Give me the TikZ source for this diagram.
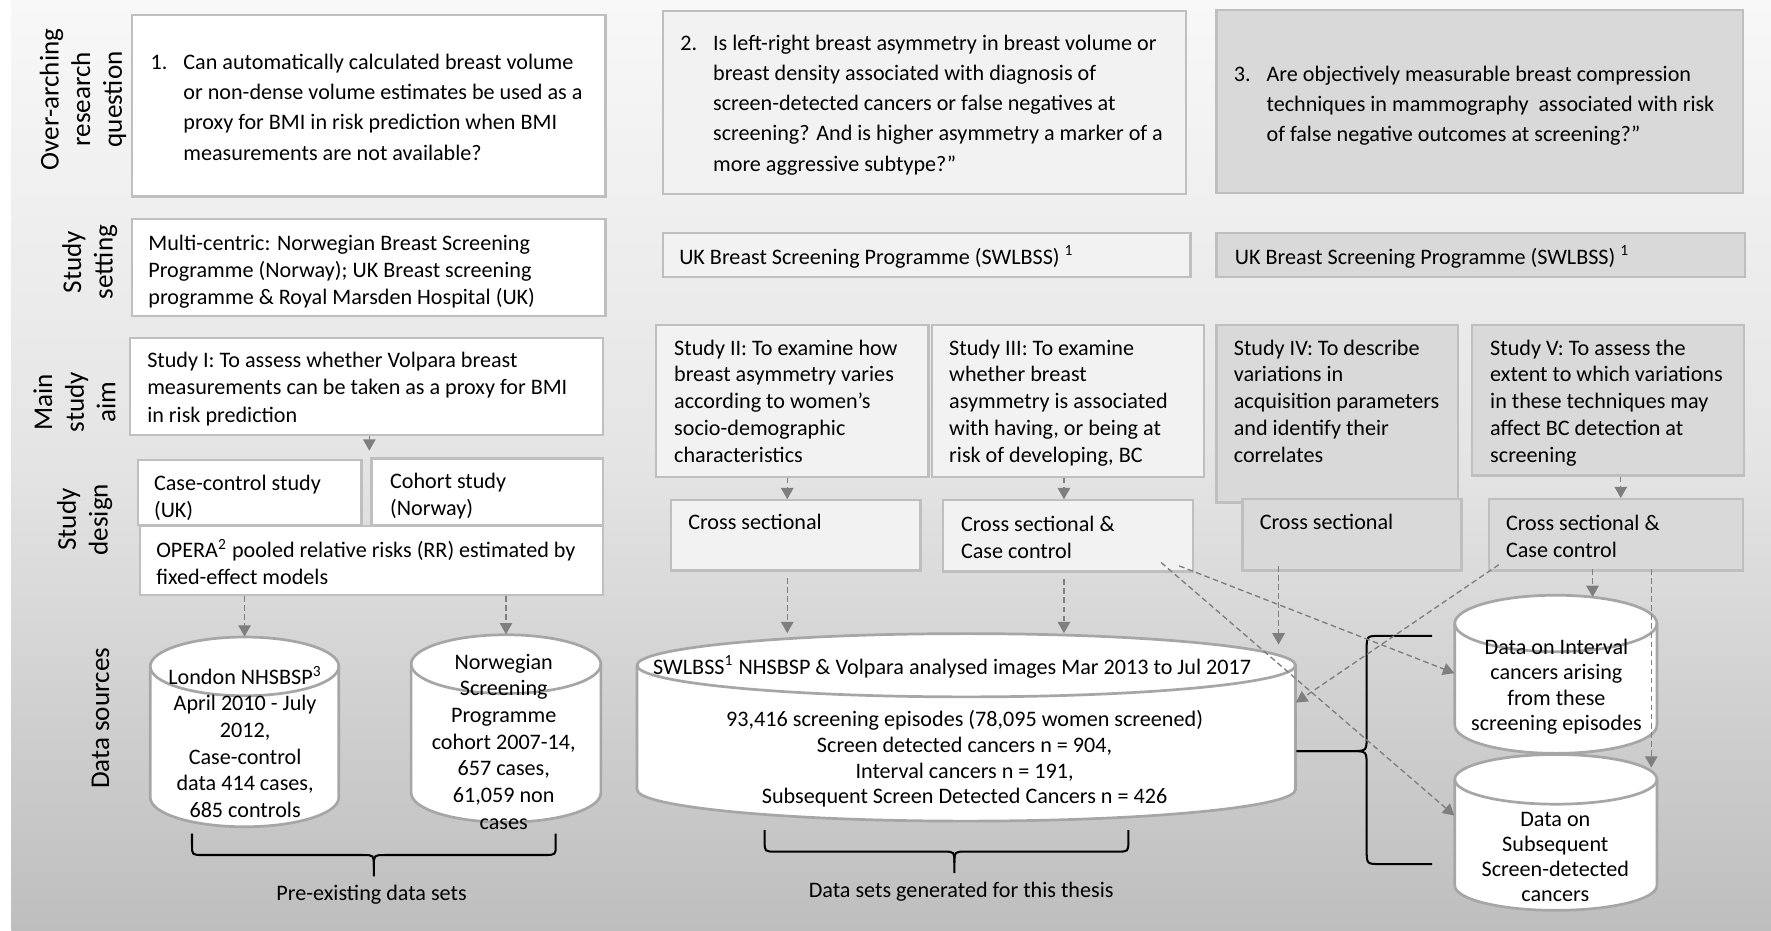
\documentclass[tikz,border=0pt]{standalone}
\usepackage{fontspec}
\setmainfont{Carlito}
\usetikzlibrary{fit,arrows.meta,calc}

\definecolor{bordergray}{HTML}{BFBFBF}
\definecolor{fillB}{HTML}{F2F2F2}
\definecolor{fillC}{HTML}{D9D9D9}
\definecolor{arrgray}{HTML}{7F7F7F}
\definecolor{cylgray}{HTML}{A6A6A6}
\definecolor{bgtop}{HTML}{F8F8F8}
\definecolor{bgmid}{HTML}{E4E4E4}
\definecolor{bgbot}{HTML}{BEBEBE}

\newcommand{\tstr}{\rule{0pt}{0.8em}}
\newcommand{\qind}{\hspace*{14.5pt}}

\tikzset{
  box/.style={draw=bordergray, line width=1pt, inner sep=0pt},
  boxA/.style={box, fill=white},
  boxB/.style={box, fill=fillB},
  boxC/.style={box, fill=fillC},
  txt/.style={inner sep=0pt, align=left, anchor=north west, font=\fontsize{9.8}{11.9}\selectfont},
  qtxt/.style={inner sep=0pt, align=left, anchor=north west, font=\fontsize{9.8}{13.4}\selectfont},
  ctxt/.style={inner sep=0pt, align=center, anchor=north, font=\fontsize{9.8}{11.6}\selectfont},
  rowlab/.style={rotate=90, align=center, inner sep=0pt, font=\fontsize{12}{14}\selectfont},
  darr/.style={color=arrgray, line width=0.6pt, dash pattern=on 2.5pt off 1.5pt, -{Triangle[length=5pt,width=5.5pt]}},
  sarr/.style={color=arrgray, line width=0.6pt, -{Triangle[length=5pt,width=5.5pt]}},
  cyl/.style={draw=cylgray, line width=1.2pt, fill=white},
  brc/.style={draw=black, line width=0.9pt},
}

\newcommand{\drawcyl}[6]{%
  \node[fit={(#2,#4)(#3,#5)}, inner sep=0pt] (#1) {};
  \pgfmathsetmacro{\cylrx}{(#3-#2)/4}%
  \pgfmathsetmacro{\cylry}{#6/2}%
  \filldraw[cyl] (#2,{#4+#6}) -- (#2,{#5-#6}) arc[start angle=180,end angle=360,x radius=\cylrx pt,y radius=\cylry pt] -- (#3,{#4+#6}) arc[start angle=0,end angle=180,x radius=\cylrx pt,y radius=\cylry pt] -- cycle;
  \draw[cyl, fill=none] (#2,{#4+#6}) arc[start angle=180,end angle=360,x radius=\cylrx pt,y radius=\cylry pt];
}

\begin{document}
\begin{tikzpicture}[x=0.5pt,y=-0.5pt]
\useasboundingbox (0,0) rectangle (1568,824);
\fill[white] (0,0) rectangle (1568,824);
\shade[top color=bgtop, bottom color=bgbot, middle color=bgmid] (10,0) rectangle (1568,824);

% row labels
\node[rowlab] (lab1) at (73.5,88) {Over-arching\\research\\question};
\node[rowlab] (lab2) at (79.5,232) {Study\\setting};
\node[rowlab] (lab3) at (66,356) {Main\\study\\aim};
\node[rowlab] (lab4) at (75,460) {Study\\design};
\node[rowlab] (lab5) at (89,636) {Data sources};

% boxes
\node[boxA, fit={(117,13)(536,174)}] (q1) {};
\node[boxB, fit={(587,10)(1050,172)}] (q2) {};
\node[boxC, fit={(1077,9)(1543,171)}] (q3) {};
\node[boxA, fit={(117,194)(536,280)}] (set1) {};
\node[boxB, fit={(587,206)(1054,245)}] (set2) {};
\node[boxC, fit={(1077,206)(1545,245)}] (set3) {};
\node[boxA, fit={(115,299)(534,385)}] (s1) {};
\node[boxA, fit={(122,407)(320,465)}] (cc) {};
\node[boxA, fit={(329,406)(534,465)}] (coh) {};
\node[boxA, fit={(124,466)(534,527)}] (opera) {};
\node[boxB, fit={(581,288)(822,422)}] (s2) {};
\node[boxB, fit={(825,288)(1066,422)}] (s3) {};
\node[boxC, fit={(1077,288)(1291,445)}] (s4) {};
\node[boxC, fit={(1303,288)(1544,421)}] (s5) {};
\node[boxB, fit={(594,443)(815,505)}] (cs2) {};
\node[boxB, fit={(835,443)(1056,506)}] (cs3) {};
\node[boxC, fit={(1100,442)(1294,505)}] (cs4) {};
\node[boxC, fit={(1318,442)(1543,505)}] (cs5) {};

% box texts
\node[qtxt] (q1t) at (133,45.3) {\tstr\makebox[14.5pt][l]{1.}Can automatically calculated breast volume\\\qind or non-dense volume estimates be used as a\\\qind proxy for BMI in risk prediction when BMI\\\qind measurements are not available?};
\node[qtxt] (q2t) at (602,28.3) {\tstr\makebox[14.5pt][l]{2.}Is left-right breast asymmetry in breast volume or\\\qind breast density associated with diagnosis of\\\qind screen-detected cancers or false negatives at\\\qind screening? And is higher asymmetry a marker of a\\\qind more aggressive subtype?”};
\node[qtxt] (q3t) at (1092,55.8) {\tstr\makebox[14.5pt][l]{3.}Are objectively measurable breast compression\\\qind techniques in mammography\ \ associated with risk\\\qind of false negative outcomes at screening?”};
\node[txt, font=\fontsize{9.8}{12.1}\selectfont] (set1t) at (131,205.3) {\tstr Multi-centric: Norwegian Breast Screening\\Programme (Norway); UK Breast screening\\programme \& Royal Marsden Hospital (UK)};
\node[txt] (set2t) at (601,217.3) {\tstr UK Breast Screening Programme (SWLBSS) \textsuperscript{1}};
\node[txt] (set3t) at (1093,217.3) {\tstr UK Breast Screening Programme (SWLBSS) \textsuperscript{1}};
\node[txt, font=\fontsize{9.8}{12.1}\selectfont] (s1t) at (130,309.3) {\tstr Study I: To assess whether Volpara breast\\measurements can be taken as a proxy for BMI\\in risk prediction};
\node[txt] (cct) at (136,418.3) {\tstr Case-control study\\(UK)};
\node[txt] (coht) at (345,416.3) {\tstr Cohort study\\(Norway)};
\node[txt] (operat) at (138,477.3) {\tstr OPERA\textsuperscript{2} pooled relative risks (RR) estimated by\\fixed-effect models};
\node[txt] (s2t) at (596.5,298.3) {\tstr Study II: To examine how\\breast asymmetry varies\\according to women’s\\socio-demographic\\characteristics};
\node[txt] (s3t) at (840,298.3) {\tstr Study III: To examine\\whether breast\\asymmetry is associated\\with having, or being at\\risk of developing, BC};
\node[txt] (s4t) at (1092,298.3) {\tstr Study IV: To describe\\variations in\\acquisition parameters\\and identify their\\correlates};
\node[txt] (s5t) at (1319,298.3) {\tstr Study V: To assess the\\extent to which variations\\in these techniques may\\affect BC detection at\\screening};
\node[txt] (cs2t) at (609,452.8) {\tstr Cross sectional};
\node[txt] (cs3t) at (850.5,454.3) {\tstr Cross sectional \&\\Case control};
\node[txt] (cs4t) at (1115,452.8) {\tstr Cross sectional};
\node[txt] (cs5t) at (1333,453.3) {\tstr Cross sectional \&\\Case control};

% cylinders
\drawcyl{lon}{133}{300}{564}{732}{26}
\drawcyl{nor}{364}{532}{562}{728}{26}
\drawcyl{main}{564}{1147}{561}{727}{28}
\drawcyl{intv}{1288}{1467}{527}{667}{25}
\drawcyl{subq}{1288}{1467}{668}{806}{22}

\node[ctxt, font=\fontsize{9.8}{11.8}\selectfont] (lont) at (217,589.3) {\tstr London NHSBSP\textsuperscript{3}\\April 2010 - July\\2012,\\Case-control\\data 414 cases,\\685 controls};
\node[ctxt, font=\fontsize{9.8}{11.8}\selectfont] (nort) at (446,576.3) {\tstr Norwegian\\Screening\\Programme\\cohort 2007-14,\\657 cases,\\61,059 non\\cases};
\node[ctxt] (maintt) at (843,580.3) {\tstr SWLBSS\textsuperscript{1} NHSBSP \& Volpara analysed images Mar 2013 to Jul 2017};
\node[ctxt, font=\fontsize{9.8}{11.4}\selectfont] (mainbt) at (854,627.3) {\tstr 93,416 screening episodes (78,095 women screened)\\Screen detected cancers n = 904,\\Interval cancers n = 191,\\Subsequent Screen Detected Cancers n = 426};
\node[ctxt, font=\fontsize{9.8}{11.3}\selectfont] (intvt) at (1378,563.3) {\tstr Data on Interval\\cancers arising\\from these\\screening episodes};
\node[ctxt, font=\fontsize{9.8}{11.2}\selectfont] (subqt) at (1377,715.3) {\tstr Data on\\Subsequent\\Screen-detected\\cancers};

% braces and their labels
\draw[brc] (170,738) -- (170,748) .. controls (170,757) .. (180,757) -- (321,757) .. controls (331,757) .. (331,767) -- (331,776);
\draw[brc] (492,738) -- (492,748) .. controls (492,757) .. (482,757) -- (341,757) .. controls (331,757) .. (331,767);
\node[ctxt] (lab6) at (329,781.3) {\tstr Pre-existing data sets};
\draw[brc] (677,735) -- (677,745) .. controls (677,754) .. (687,754) -- (835,754) .. controls (845,754) .. (845,764) -- (845,773);
\draw[brc] (999,735) -- (999,745) .. controls (999,754) .. (989,754) -- (855,754) .. controls (845,754) .. (845,764);
\node[ctxt] (lab7) at (851,778.3) {\tstr Data sets generated for this thesis};
\draw[brc] (1268,563) -- (1222,563) .. controls (1210,563) .. (1210,575) -- (1210,652) .. controls (1210,665) .. (1196,665) -- (1148,665);
\draw[brc] (1148,665) -- (1196,665) .. controls (1210,665) .. (1210,678) -- (1210,752) .. controls (1210,765) .. (1222,765) -- (1268,765);

% connectors
\coordinate (s1tip) at (327,399);
\coordinate (xII) at (697,0);
\coordinate (xIII) at (942,0);
\coordinate (xIV) at (1132,0);
\coordinate (xV) at (1435,0);
\coordinate (xVa) at (1410,0);
\coordinate (xVb) at (1462,0);

\draw[sarr] (s1.south -| s1tip) -- (s1tip);
\draw[darr] (opera.south -| lon.north) -- (lon.north);
\draw[darr] (opera.south -| nor.north) -- (nor.north);
\draw[darr] (s2.south -| xII) -- (cs2.north -| xII);
\draw[darr] (s3.south -| xIII) -- (cs3.north -| xIII);
\draw[darr] (s5.south -| xV) -- (cs5.north -| xV);
\draw[darr] ($(cs2.south -| xII)+(0,6)$) -- (main.north -| xII);
\draw[darr] ($(cs3.south -| xIII)+(0,6)$) -- (main.north -| xIII);
\draw[darr] ($(cs4.south -| xIV)+(0,-5)$) -- ($(main.north -| xIV)+(0,10)$);
\draw[darr] ($(cs5.south -| xVa)+(0,-2)$) -- ($(intv.north -| xVa)+(0,2)$);
\draw[darr] ($(cs5.south -| xVb)+(0,-2)$) -- ($(subq.north -| xVb)+(0,12)$);
\draw[darr] ($(cs5.south west)+(10,-6)$) -- ($(main.east)+(0,-22)$);
\draw[darr] ($(cs3.south east)+(-29,-9)$) -- ($(subq.west)+(0,-15)$);
\draw[darr] ($(cs3.south east)+(-13,-6)$) -- ($(intv.west)+(0,-1)$);
\end{tikzpicture}
\end{document}
